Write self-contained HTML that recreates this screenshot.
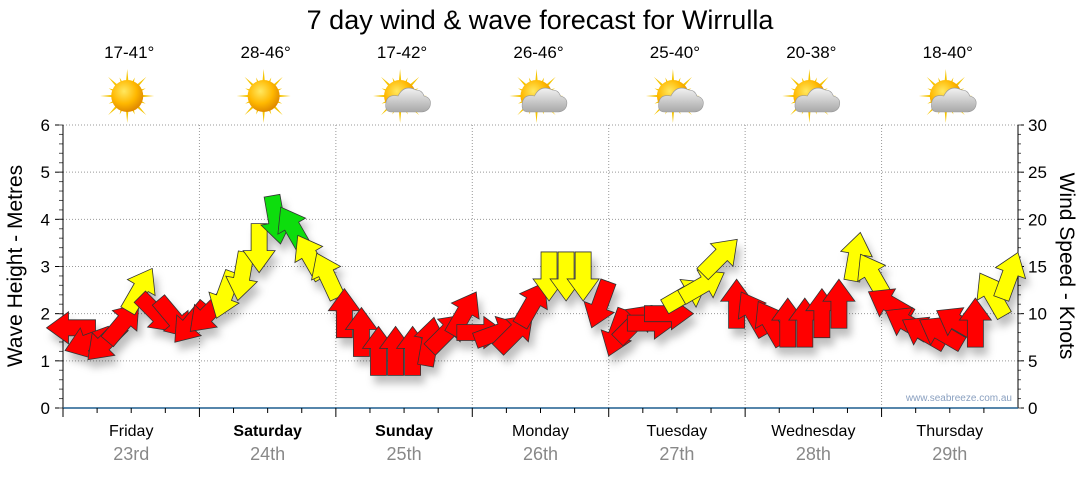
<!DOCTYPE html>
<html><head><meta charset="utf-8"><style>
body{margin:0;background:#fff;font-family:"Liberation Sans","DejaVu Sans",sans-serif}
svg text{font-family:"Liberation Sans","DejaVu Sans",sans-serif}
</style></head><body>
<svg id="c" width="1080" height="475" viewBox="0 0 1080 475" xmlns="http://www.w3.org/2000/svg">
<defs>
<filter id="sh" x="-50%" y="-50%" width="200%" height="200%"><feDropShadow dx="4" dy="8" stdDeviation="4" flood-color="#000" flood-opacity="0.25"/></filter>
<radialGradient id="sun" cx="40%" cy="35%" r="65%"><stop offset="0" stop-color="#ffe860"/><stop offset="0.6" stop-color="#ffb800"/><stop offset="1" stop-color="#e08a00"/></radialGradient>
<linearGradient id="cl" x1="0" y1="0" x2="0" y2="1"><stop offset="0" stop-color="#f2f2f2"/><stop offset="1" stop-color="#a8a8a8"/></linearGradient>
</defs>
<text x="540" y="29" text-anchor="middle" font-size="27" fill="#000">7 day wind &amp; wave forecast for Wirrulla</text>
<g id="grid"></g><g id="icons"></g><g id="axes"></g><g id="arrows" filter="url(#sh)"></g>
<text x="1012" y="401" text-anchor="end" font-size="10" fill="#8aa0c0">www.seabreeze.com.au</text>
<text transform="translate(22,266) rotate(-90)" text-anchor="middle" font-size="21" fill="#000">Wave Height - Metres</text>
<text transform="translate(1060,266) rotate(90)" text-anchor="middle" font-size="21" fill="#000">Wind Speed - Knots</text>
</svg>
<script>
const days=["Friday","Saturday","Sunday","Monday","Tuesday","Wednesday","Thursday"];
const dates=["23rd","24th","25th","26th","27th","28th","29th"];
const boldDays=[false,true,true,false,false,false,false];
const temps=["17-41°","28-46°","17-42°","26-46°","25-40°","20-38°","18-40°"];
const cloudy=[false,false,true,true,true,true,true];
const waveTicks=[0,1,2,3,4,5,6];
const windTicks=[0,5,10,15,20,25,30];
const windSpeed=[8.5,7,7,9,12.5,10,9.5,9, 10,12,14,17,20,19,16,14, 10,8,6,6,6,7,8,10, 8,8,8,11,14,14,14,11, 8,9,9,10,12,13,16,11, 10,9,9,9,10,11,16,14, 11,9,8,8,9,9,12,14];
const windDir=[270,250,225,40,30,135,140,220, 225,200,190,180,170,330,330,335, 0,0,0,0,0,10,45,30, 90,70,45,30,180,180,180,200, 200,45,90,90,60,60,45,0, 330,330,0,0,0,0,10,330, 300,300,300,300,300,0,330,20];
const NS="http://www.w3.org/2000/svg";
const X0=63,X1=1018,Y0=408,Y1=125,dayW=(X1-X0)/7;
const yW=v=>Y0-(v/6)*(Y0-Y1), yK=v=>Y0-(v/30)*(Y0-Y1);
const xI=i=>X0+(i+0.5)*dayW/8;
function mk(t,a,p){const e=document.createElementNS(NS,t);for(const k in a)e.setAttribute(k,a[k]);(p||document.getElementById('c')).appendChild(e);return e;}
const grid=document.getElementById('grid'),axes=document.getElementById('axes'),icons=document.getElementById('icons'),arrows=document.getElementById('arrows');
waveTicks.forEach(v=>{if(v>0){const l=mk('line',{x1:X0,x2:X1,y1:yW(v),y2:yW(v),stroke:'#999','stroke-dasharray':'1,2'},grid);
}
const t=mk('text',{x:50,y:yW(v)+6,'text-anchor':'end','font-size':17},axes);t.textContent=v;

mk('line',{x1:X0-8,x2:X0,y1:yW(v),y2:yW(v),stroke:'#000'},axes);});
for(let m=0;m<=30;m++){const y=yW(m*0.2);mk('line',{x1:X0-4,x2:X0,y1:y,y2:y,stroke:'#555'},axes);}
windTicks.forEach(v=>{const t=mk('text',{x:1028,y:yK(v)+6,'font-size':17},axes);t.textContent=v;

mk('line',{x1:X1,x2:X1+6,y1:yK(v),y2:yK(v),stroke:'#000'},axes);});
for(let m=0;m<=30;m++){mk('line',{x1:X1,x2:X1+3,y1:yK(m),y2:yK(m),stroke:'#555'},axes);}
mk('line',{x1:X0,x2:X0,y1:Y1,y2:Y0,stroke:'#000'},axes);
mk('line',{x1:X1,x2:X1,y1:Y1,y2:Y0,stroke:'#000'},axes);
mk('line',{x1:X0,x2:X1,y1:Y0,y2:Y0,stroke:'#1f5f8f','stroke-width':1.5},axes);
days.forEach((d,i)=>{const xs=X0+i*dayW,cx=xs+dayW/2;
if(i>0){const g=mk('line',{x1:xs,x2:xs,y1:Y1,y2:Y0,stroke:'#999','stroke-dasharray':'1,2'},grid);}
mk('line',{x1:xs,x2:xs,y1:Y0,y2:Y0+9,stroke:'#000'},axes);
for(let k=1;k<4;k++)mk('line',{x1:xs+k*dayW/4,x2:xs+k*dayW/4,y1:Y0,y2:Y0+5,stroke:'#000'},axes);
const t=mk('text',{x:cx,y:436,'text-anchor':'middle','font-size':16,'font-weight':boldDays[i]?'bold':'normal'},axes);t.textContent=d;

const t2=mk('text',{x:cx,y:460,'text-anchor':'middle','font-size':18,fill:'#888'},axes);t2.textContent=dates[i];

const t3=mk('text',{x:cx-2,y:58,'text-anchor':'middle','font-size':17},icons);t3.textContent=temps[i];

const g=mk('g',{transform:`translate(${cx-4},96)`},icons);

for(let r=0;r<16;r++){const a=r*22.5*Math.PI/180,L=r%2?20:27;mk('polygon',{points:`${Math.cos(a-0.12)*12},${Math.sin(a-0.12)*12} ${Math.cos(a)*L},${Math.sin(a)*L} ${Math.cos(a+0.12)*12},${Math.sin(a+0.12)*12}`,fill:'#f5c400'},g);}
mk('circle',{r:16,fill:'url(#sun)'},g);
if(cloudy[i]){mk('path',{d:'M-8,16 Q-16,16 -14,6 Q-12,-2 -2,0 Q4,-12 16,-6 Q22,-6 24,0 Q32,2 30,10 Q28,16 20,16 Z',fill:'url(#cl)',stroke:'#999','stroke-width':0.6},g);}
});
windSpeed.forEach((s,i)=>{const x=xI(i),y=yK(s);
const col=s>=18?'#11dd11':(s>=11.5?'#ffff00':'#ff0000');
const p=mk('polygon',{points:'0,-25 16,-3 8,-3 8,24 -8,24 -8,-3 -16,-3',fill:col,stroke:'#333','stroke-width':0.8,transform:`translate(${x},${y}) rotate(${windDir[i]})`},arrows);
});
</script>
</body></html>
